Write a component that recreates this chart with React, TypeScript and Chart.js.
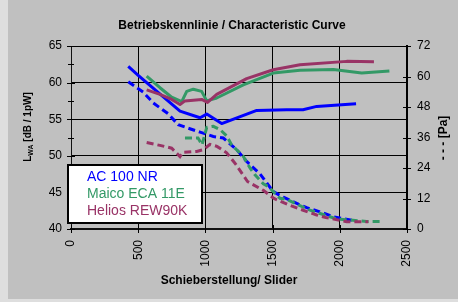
import React, { useEffect, useRef } from "react";
import { Chart, registerables } from "chart.js";

Chart.register(...registerables);

const TITLE = "Betriebskennlinie / Characteristic Curve";
const X_TITLE = "Schieberstellung/ Slider";
const Y_TITLE_MAIN = "L";
const Y_TITLE_SUB = "WA";
const Y_TITLE_REST = " [dB / 1pW]";
const Y2_TITLE = "- - - [Pa]";

const seriesNames = ["AC 100 NR", "Maico ECA 11E", "Helios REW90K"];
const seriesColors = ["#0000ff", "#339966", "#993366"];

// AC 100 NR — sound power (dB), solid
const acLevelX = [426, 500, 811, 960, 1010, 1121, 1382, 1605, 1726, 1828, 2121];
const acLevelY = [62.2, 61.0, 56.1, 55.2, 55.7, 54.4, 56.2, 56.3, 56.3, 56.75, 57.1];
// AC 100 NR — pressure (Pa), dashed
const acPressX = [426, 538, 612, 724, 798, 960, 1059, 1133, 1233, 1307, 1406, 1505, 1580, 1692, 1754, 1877, 1952, 2100];
const acPressY = [57.9, 53.8, 49.6, 45.3, 41.0, 38.1, 36.4, 35.8, 31.2, 26.6, 21.7, 14.7, 12.5, 9.8, 8.4, 6.3, 4.8, 3.3];

// Maico ECA 11E
const maicoLevelX = [563, 662, 749, 824, 861, 910, 972, 1010, 1084, 1282, 1505, 1704, 1952, 2163, 2369];
const maicoLevelY = [60.9, 59.3, 58.0, 57.4, 58.8, 59.1, 58.8, 57.5, 57.9, 59.7, 61.3, 61.7, 61.8, 61.3, 61.6];
const maicoPressX = [848, 945, 975, 1010, 1059, 1109, 1158, 1195, 1282, 1332, 1369, 1431, 1468, 1555, 1605, 1778, 1977, 2200, 2321];
const maicoPressY = [35.8, 35.8, 33.1, 40.0, 40.4, 39.1, 36.7, 33.1, 28.6, 24.0, 21.3, 17.8, 16.7, 12.1, 11.6, 7.4, 3.95, 3.0, 3.0];

// Helios REW90K
const heliosLevelX = [563, 662, 749, 811, 848, 972, 1016, 1084, 1307, 1505, 1704, 2051, 2254];
const heliosLevelY = [59.0, 58.4, 57.7, 57.0, 57.5, 57.7, 57.3, 58.4, 60.55, 61.75, 62.45, 62.9, 62.85];
const heliosPressX = [563, 662, 749, 811, 833, 935, 984, 1034, 1086, 1158, 1228, 1313, 1431, 1510, 1629, 1704, 1828, 1897, 2051, 2212];
const heliosPressY = [34.0, 32.9, 31.8, 28.5, 30.2, 30.5, 31.2, 33.3, 32.5, 30.0, 25.3, 18.7, 15.2, 12.0, 9.3, 7.8, 5.5, 4.5, 2.9, 2.9];

const xMin = 0, xMax = 2500, xStep = 500;
const yMin = 40, yMax = 65, yStep = 5, yMinorStep = 2.5;
const y2Min = 0, y2Max = 72, y2Step = 12;

const FONT = "'Liberation Sans', Arial, Helvetica, sans-serif";

const toPts = (xs: number[], ys: number[]) => xs.map((x, i) => ({ x, y: ys[i] }));

const decoPlugin = {
  id: "deco",
  afterDraw(chart: any) {
    const ctx: CanvasRenderingContext2D = chart.ctx;
    const { left, right, top, bottom } = chart.chartArea;
    const sx = chart.scales.x, sy = chart.scales.y, sy2 = chart.scales.y1;
    ctx.save();
    // top frame
    ctx.strokeStyle = "#000";
    ctx.lineWidth = 1;
    ctx.beginPath();
    ctx.moveTo(left, Math.round(top) + 0.5);
    ctx.lineTo(right, Math.round(top) + 0.5);
    ctx.stroke();
    // crossing tick marks
    ctx.beginPath();
    for (let v = yMin; v <= yMax + 1e-9; v += yMinorStep) {
      const py = Math.round(sy.getPixelForValue(v)) + 0.5;
      const major = Math.abs(v / yStep - Math.round(v / yStep)) < 1e-6;
      const l = major ? 4 : 3;
      ctx.moveTo(left - l, py);
      ctx.lineTo(left + l, py);
    }
    for (let v = y2Min; v <= y2Max + 1e-9; v += y2Step) {
      const py = Math.round(sy2.getPixelForValue(v)) + 0.5;
      ctx.moveTo(right - 4, py);
      ctx.lineTo(right + 4, py);
    }
    for (let v = xMin; v <= xMax + 1e-9; v += xStep) {
      const px = Math.round(sx.getPixelForValue(v)) + 0.5;
      ctx.moveTo(px, bottom - 4);
      ctx.lineTo(px, bottom + 4);
    }
    ctx.stroke();

    // titles
    ctx.fillStyle = "#000";
    ctx.font = `bold 12px ${FONT}`;
    ctx.textAlign = "center";
    ctx.textBaseline = "alphabetic";
    ctx.fillText(TITLE, 224, 29);
    ctx.fillText(X_TITLE, (left + right) / 2 - 10, 284);

    // left y title with subscript
    ctx.save();
    ctx.translate(19, 127);
    ctx.rotate(-Math.PI / 2);
    const mainFont = `bold 10px ${FONT}`;
    const subFont = `bold 7px ${FONT}`;
    ctx.font = mainFont;
    const wL = ctx.measureText(Y_TITLE_MAIN).width;
    const wR = ctx.measureText(Y_TITLE_REST).width;
    ctx.font = subFont;
    const wS = ctx.measureText(Y_TITLE_SUB).width;
    let cx = -(wL + wS + wR) / 2;
    ctx.textAlign = "left";
    ctx.font = mainFont;
    ctx.fillText(Y_TITLE_MAIN, cx, 4);
    cx += wL;
    ctx.font = subFont;
    ctx.fillText(Y_TITLE_SUB, cx, 6);
    cx += wS;
    ctx.font = mainFont;
    ctx.fillText(Y_TITLE_REST, cx, 4);
    ctx.restore();

    // right y title
    ctx.save();
    ctx.translate(435, 138);
    ctx.rotate(-Math.PI / 2);
    ctx.font = `bold 12px ${FONT}`;
    ctx.textAlign = "center";
    ctx.fillText(Y2_TITLE, 0, 4);
    ctx.restore();

    // legend box
    const bx = 59, by = 164, bw = 136, bh = 60;
    ctx.fillStyle = "#ffffff";
    ctx.fillRect(bx, by, bw, bh);
    ctx.strokeStyle = "#000";
    ctx.lineWidth = 2;
    ctx.strokeRect(bx + 1, by + 1, bw - 2, bh - 2);
    ctx.font = `14px ${FONT}`;
    ctx.textAlign = "left";
    const baselines = [181, 197.5, 214.5];
    seriesNames.forEach((n, i) => {
      ctx.fillStyle = seriesColors[i];
      ctx.fillText(n, 79, baselines[i]);
    });
    ctx.restore();
  },
};

export default function App() {
  const ref = useRef<HTMLCanvasElement | null>(null);
  useEffect(() => {
    document.body.style.background = "#dedede";
    const canvas = ref.current;
    if (!canvas) return;
    const solid = (i: number, xs: number[], ys: number[]) => ({
      label: seriesNames[i] + " dB",
      data: toPts(xs, ys),
      yAxisID: "y",
      borderColor: seriesColors[i],
      backgroundColor: seriesColors[i],
      borderWidth: 3,
      pointRadius: 0,
      tension: 0,
      borderJoinStyle: "round" as const,
      fill: false,
    });
    const dashed = (i: number, xs: number[], ys: number[]) => ({
      label: seriesNames[i] + " Pa",
      data: toPts(xs, ys),
      yAxisID: "y1",
      borderColor: seriesColors[i],
      backgroundColor: seriesColors[i],
      borderWidth: 3,
      borderDash: [7, 4],
      pointRadius: 0,
      tension: 0,
      fill: false,
    });
    const tickFont = { size: 12, family: FONT };
    const plain = (v: any) => String(v);
    const chart = new Chart(canvas, {
      type: "line",
      data: {
        datasets: [
          dashed(2, heliosPressX, heliosPressY),
          dashed(1, maicoPressX, maicoPressY),
          dashed(0, acPressX, acPressY),
          solid(2, heliosLevelX, heliosLevelY),
          solid(1, maicoLevelX, maicoLevelY),
          solid(0, acLevelX, acLevelY),
        ],
      },
      options: {
        animation: false,
        responsive: false,
        maintainAspectRatio: false,
        layout: { padding: { top: 46, left: 0, right: 0, bottom: 0 } },
        plugins: { legend: { display: false }, title: { display: false }, tooltip: { enabled: false } },
        scales: {
          x: {
            type: "linear",
            min: xMin,
            max: xMax,
            ticks: { stepSize: xStep, maxRotation: 90, minRotation: 90, padding: 11, font: tickFont, color: "#000", callback: plain },
            grid: { color: "#000", lineWidth: 1, drawTicks: false },
            border: { color: "#111", width: 2 },
            afterFit: (s: any) => { s.height = 70; },
          },
          y: {
            position: "left",
            min: yMin,
            max: yMax,
            ticks: { stepSize: yStep, padding: 9, font: tickFont, color: "#000", callback: plain },
            grid: { color: "#000", lineWidth: 1, drawTicks: false },
            border: { color: "#111", width: 1 },
            afterFit: (s: any) => { s.width = 63; },
          },
          y1: {
            position: "right",
            min: y2Min,
            max: y2Max,
            ticks: { stepSize: y2Step, padding: 10, font: tickFont, color: "#000", callback: plain },
            grid: { display: false, drawTicks: false },
            border: { color: "#000", width: 2 },
            afterFit: (s: any) => { s.width = 51; },
          },
        },
      },
      plugins: [decoPlugin],
    } as any);
    return () => chart.destroy();
  }, []);
  return (
    <div style={{ position: "absolute", left: 8, top: 0, width: 450, height: 299, background: "#c0c0c0" }}>
      <canvas ref={ref} width={450} height={299} style={{ display: "block" }} />
    </div>
  );
}
